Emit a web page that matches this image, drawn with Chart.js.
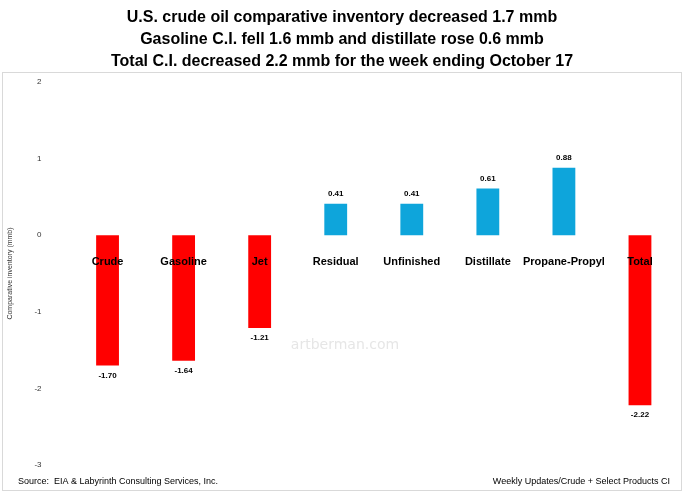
<!DOCTYPE html>
<html><head><script src="https://cdn.jsdelivr.net/npm/chart.js@4"></script>
<style>html,body{margin:0;padding:0;background:#fff}#w{position:relative;width:684px;height:496px}</style></head>
<body><div id="w"><canvas id="c" width="684" height="496"></canvas></div>
<script>
const categories=["Crude","Gasoline","Jet","Residual","Unfinished","Distillate","Propane-Propyl","Total"];
const values=[-1.70,-1.64,-1.21,0.41,0.41,0.61,0.88,-2.22];
const yTicks=[2,1,0,-1,-2,-3];
const titleLines=["U.S. crude oil comparative inventory decreased 1.7 mmb","Gasoline C.I. fell 1.6 mmb and distillate rose 0.6 mmb","Total C.I. decreased 2.2 mmb for the week ending October 17"];
const colors=values.map((v,i)=>v<0?"#ff0000":"#0ea5db");
const deco={id:"deco",
beforeDraw(ch){const x=ch.ctx;x.save();x.fillStyle="#fff";x.fillRect(0,0,684,496);
x.strokeStyle="#d9d9d9";x.lineWidth=1;x.strokeRect(2.5,72.5,679,418);
x.fillStyle="#000";x.textAlign="center";x.textBaseline="middle";x.font="bold 16px Liberation Sans, Arial";
titleLines.forEach((t,i)=>x.fillText(t,342,18+i*22));
x.font="9px Liberation Sans, Arial";x.textAlign="left";x.fillText("Source:  EIA & Labyrinth Consulting Services, Inc.",18,482);
x.textAlign="right";x.fillText("Weekly Updates/Crude + Select Products CI",670,482);
x.fillStyle="#e6e6e6";x.textAlign="center";x.font="14px DejaVu Sans";x.fillText("artberman.com",345,345);
x.restore();},
afterDatasetsDraw(ch){const x=ch.ctx,m=ch.getDatasetMeta(0),ys=ch.scales.y;x.save();x.fillStyle="#000";x.textAlign="center";x.textBaseline="middle";
const z=ys.getPixelForValue(0);
m.data.forEach((b,i)=>{x.font="bold 8px Liberation Sans, Arial";const v=values[i];
x.fillText(v.toFixed(2),b.x,v<0?b.y+10:b.y-10);
x.font="bold 11px Liberation Sans, Arial";x.fillText(categories[i],b.x,z+27);});
x.restore();}};
new Chart(document.getElementById("c"),{type:"bar",
data:{labels:categories,datasets:[{data:values,backgroundColor:colors,barPercentage:0.6,categoryPercentage:0.5}]},
options:{responsive:false,animation:false,events:[],
layout:{padding:{top:82,bottom:31,left:6,right:6}},
plugins:{legend:{display:false},tooltip:{enabled:false}},
scales:{x:{display:false},
y:{min:-3,max:2,afterBuildTicks(s){s.ticks=yTicks.map(v=>({value:v}));},grid:{display:false},border:{display:false},
ticks:{color:"#333",font:{size:8,family:"Liberation Sans"},padding:20},
title:{display:true,text:"Comparative inventory (mmb)",font:{size:7,family:"Liberation Sans"},color:"#333",padding:0}}}},
plugins:[deco]});
</script></body></html>
